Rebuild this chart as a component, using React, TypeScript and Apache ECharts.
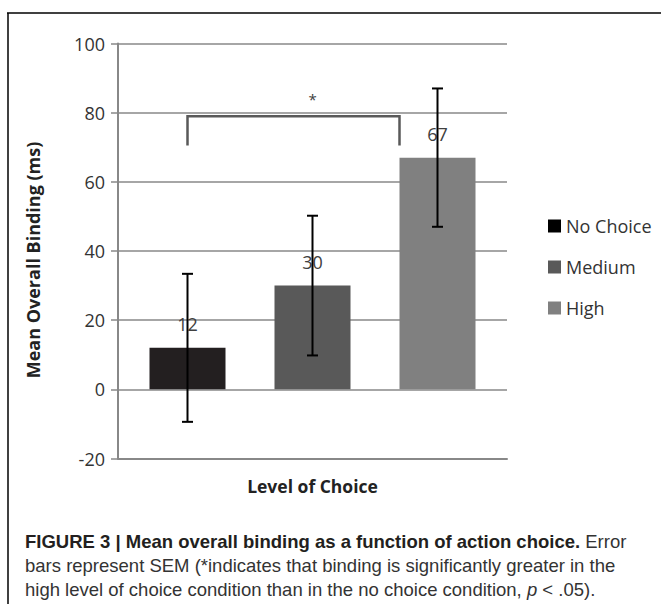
import React, { useEffect, useRef } from "react";
import * as echarts from "echarts";

// ---- data ----
const categories = ["No Choice", "Medium", "High"];
const means = [12, 30, 67];
const sem = [21.4, 20.2, 20.0];
const barColors = ["#231f20", "#595959", "#808080"];
const legendColors = ["#000000", "#595959", "#808080"];
const yMin = -20;
const yMax = 100;
const yInterval = 20;
const bracketSpan = [0, 2]; // category indices
const bracketLevels = [79, 70.5]; // top, bottom of bracket legs
const sigMark = { x: 1, y: 84, text: "*" };
const xTitle = "Level of Choice";
const yTitle = "Mean Overall Binding (ms)";
const captionLines = [
  "{b|FIGURE 3 | Mean overall binding as a function of action choice.} Error",
  "bars represent SEM (*indicates that binding is significantly greater in the",
  "high level of choice condition than in the no choice condition, {i|p} < .05).",
];

const BAR_WIDTH = 76;
const FONT = "'Open Sans', sans-serif";
const CAP_FONT = "'Liberation Sans', Arial, sans-serif";
const CAP_SIZE = 18.5;

export default function App() {
  const ref = useRef<HTMLDivElement>(null);

  useEffect(() => {
    if (!ref.current) return;
    const chart = echarts.init(ref.current, undefined, { renderer: "svg" });

    const barSeries = categories.map((name, i) => ({
      type: "bar",
      name,
      data: [[i, means[i]]],
      barWidth: BAR_WIDTH,
      barGap: "-100%",
      itemStyle: { color: barColors[i] },
      label: {
        show: true,
        position: "top",
        distance: 15,
        fontSize: 18,
        fontFamily: FONT,
        color: "#404040",
        formatter: (p: any) => String(p.value[1]),
      },
      z: 2,
    }));

    const errorData = means.map((m, i) => [i, m - sem[i], m + sem[i]]);

    const option: any = {
      animation: false,
      textStyle: { fontFamily: FONT },
      grid: { left: 118, top: 43.5, width: 389, height: 415, containLabel: false },
      legend: {
        orient: "vertical",
        left: 543,
        top: 212,
        itemWidth: 13,
        itemHeight: 13,
        itemGap: 23,
        icon: "rect",
        textStyle: { fontSize: 18, lineHeight: 18, color: "#333333", fontFamily: FONT },
        data: categories.map((c, i) => ({ name: c, itemStyle: { color: legendColors[i] } })),
      },
      xAxis: {
        type: "value",
        min: -0.556,
        max: 2.556,
        axisLine: { show: true, onZero: false, lineStyle: { color: "#888888", width: 2 } },
        axisTick: { show: false },
        axisLabel: { show: false },
        splitLine: { show: false },
        name: xTitle,
        nameLocation: "middle",
        nameGap: 18,
        nameTextStyle: { fontSize: 17.5, fontWeight: "bold", color: "#222222", fontFamily: FONT },
      },
      yAxis: {
        type: "value",
        min: yMin,
        max: yMax,
        interval: yInterval,
        axisLine: { show: true, onZero: false, lineStyle: { color: "#888888", width: 2 } },
        axisTick: { show: true, length: 7, lineStyle: { color: "#888888", width: 1.5 } },
        axisLabel: { margin: 13, fontSize: 18, color: "#333333", fontFamily: FONT },
        splitLine: { show: true, lineStyle: { color: "#888888", width: 1.5 } },
      },
      series: [
        ...barSeries,
        {
          type: "custom",
          name: "err",
          z: 4,
          data: errorData,
          renderItem: (_params: any, api: any) => {
            const x = api.value(0);
            const lo = api.coord([x, api.value(1)]);
            const hi = api.coord([x, api.value(2)]);
            const h = 5.5;
            const st = { stroke: "#000000", lineWidth: 2 };
            return {
              type: "group",
              children: [
                { type: "line", shape: { x1: lo[0], y1: lo[1], x2: hi[0], y2: hi[1] }, style: st },
                { type: "line", shape: { x1: hi[0] - h, y1: hi[1], x2: hi[0] + h, y2: hi[1] }, style: st },
                { type: "line", shape: { x1: lo[0] - h, y1: lo[1], x2: lo[0] + h, y2: lo[1] }, style: st },
              ],
            };
          },
        },
        {
          type: "custom",
          name: "sig",
          z: 4,
          data: [[bracketSpan[0], bracketSpan[1], bracketLevels[0], bracketLevels[1], sigMark.x, sigMark.y]],
          renderItem: (_params: any, api: any) => {
            const l = api.coord([api.value(0), api.value(2)]);
            const r = api.coord([api.value(1), api.value(2)]);
            const b = api.coord([api.value(0), api.value(3)]);
            const m = api.coord([api.value(4), api.value(5)]);
            const rx = r[0] - BAR_WIDTH / 2;
            return {
              type: "group",
              children: [
                {
                  type: "polyline",
                  shape: { points: [[l[0], b[1]], [l[0], l[1]], [rx, l[1]], [rx, b[1]]] },
                  style: { stroke: "#595959", lineWidth: 2.5, fill: null },
                },
                {
                  type: "text",
                  x: m[0],
                  y: m[1],
                  style: {
                    text: sigMark.text,
                    fontSize: 15,
                    fontFamily: FONT,
                    fill: "#404040",
                    align: "center",
                    verticalAlign: "middle",
                  },
                },
              ],
            };
          },
        },
      ],
      graphic: [
        { type: "line", shape: { x1: 7, y1: 13, x2: 661, y2: 13 }, style: { stroke: "#000", lineWidth: 1.5 } },
        { type: "line", shape: { x1: 8, y1: 13, x2: 8, y2: 604 }, style: { stroke: "#000", lineWidth: 1.5 } },
        {
          type: "text",
          x: 33,
          y: 260,
          rotation: Math.PI / 2,
          style: {
            text: yTitle,
            fontSize: 18,
            fontWeight: "bold",
            fontFamily: FONT,
            fill: "#222222",
            align: "center",
            verticalAlign: "middle",
          },
        },
        ...captionLines.map((t, i) => ({
          type: "text",
          x: 25,
          y: 541 + i * 24.3,
          style: {
            text: t,
            fontSize: CAP_SIZE,
            fontFamily: CAP_FONT,
            fill: "#333333",
            align: "left",
            verticalAlign: "middle",
            rich: {
              b: { fontSize: CAP_SIZE, fontFamily: CAP_FONT, fontWeight: "bold", fill: "#231f20" },
              i: { fontSize: CAP_SIZE, fontFamily: CAP_FONT, fontStyle: "italic", fill: "#333333" },
            },
          },
        })),
      ],
    };

    chart.setOption(option);
    return () => chart.dispose();
  }, []);

  return (
    <div
      ref={ref}
      style={{ position: "fixed", left: 0, top: 0, width: 661, height: 604, background: "#fff" }}
    />
  );
}
